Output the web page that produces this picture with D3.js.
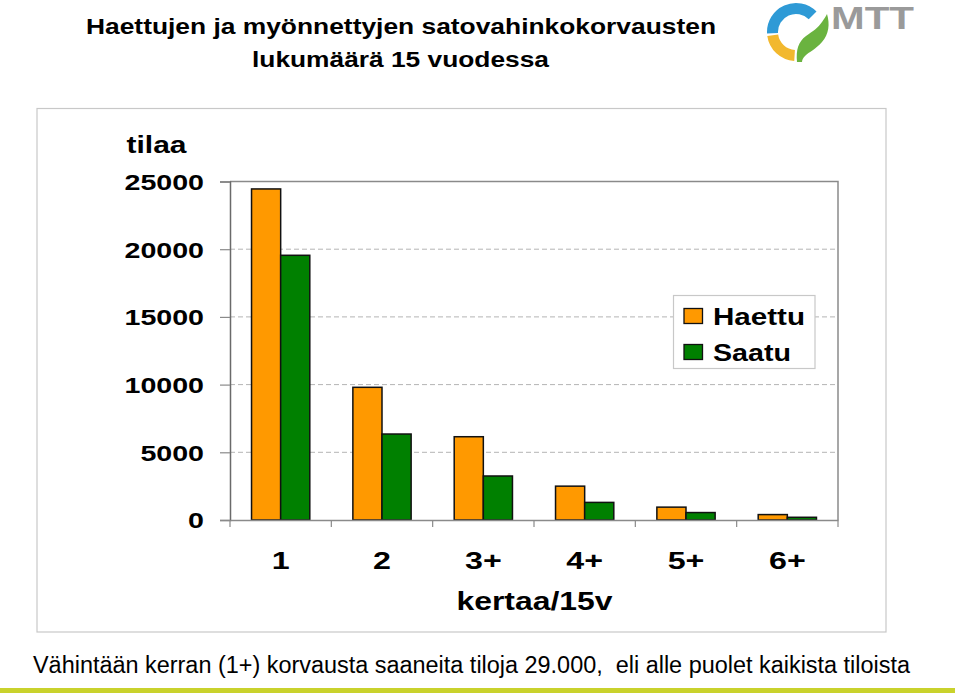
<!DOCTYPE html>
<html><head><meta charset="utf-8">
<script src="https://cdn.jsdelivr.net/npm/d3@7/dist/d3.min.js"></script>
<style>body{margin:0;background:#fff}svg{display:block;font-family:"Liberation Sans",Arial,sans-serif}</style>
</head><body>
<svg id="c" width="960" height="696"></svg>
<script>
const categories = ["1", "2", "3+", "4+", "5+", "6+"];
const haettu = [24450, 9800, 6150, 2500, 950, 400];
const saatu = [19550, 6350, 3250, 1300, 550, 200];
const seriesNames = ["Haettu", "Saatu"];
const seriesColors = ["#FF9900", "#008000"];
const yTicks = [0, 5000, 10000, 15000, 20000, 25000];

const svg = d3.select("#c");
const L = 230, R = 838, T = 181.5, B = 520;

function stretch(sel, f) {
  sel.each(function() {
    const w = this.getComputedTextLength();
    d3.select(this).attr("textLength", w * f).attr("lengthAdjust", "spacingAndGlyphs");
  });
}
function fitTo(sel, w) {
  sel.attr("textLength", w).attr("lengthAdjust", "spacingAndGlyphs");
}

// titles
svg.append("text").attr("x", 401).attr("y", 34).attr("text-anchor", "middle")
  .attr("font-size", 22.5).attr("font-weight", "bold").attr("fill", "#000")
  .text("Haettujen ja myönnettyjen satovahinkokorvausten").call(fitTo, 630);
svg.append("text").attr("x", 400.5).attr("y", 66.5).attr("text-anchor", "middle")
  .attr("font-size", 22.5).attr("font-weight", "bold").attr("fill", "#000")
  .text("lukumäärä 15 vuodessa").call(fitTo, 297);

// logo
const logo = svg.append("g").attr("transform", "translate(796,32)");
const arcG = d3.arc().innerRadius(18).outerRadius(29);
logo.append("path").attr("d", arcG({startAngle: -Math.PI/2 - 0.05, endAngle: Math.PI*0.25})).attr("fill", "#2e9ad6");
logo.append("path").attr("d", arcG({startAngle: -Math.PI/2 - 0.14, endAngle: -Math.PI + 0.06})).attr("fill", "#f2b82e");
svg.append("path")
  .attr("d", "M797,62 C796,50 798,42 806,36 C813,31 818,28 822,22 C824,19 826,16 827,14 C830,24 829,34 822,42 C816,49 809,52 805,56 C803,58 802,60 802,62 Z")
  .attr("fill", "#6ab33f");
svg.append("text").attr("x", 831).attr("y", 29).attr("font-size", 31).attr("font-weight", "bold")
  .attr("fill", "#9a9a9a").text("MTT").call(fitTo, 83);

// outer frame
svg.append("rect").attr("x", 37).attr("y", 108.5).attr("width", 849).attr("height", 523.5)
  .attr("fill", "none").attr("stroke", "#c8c8c8").attr("stroke-width", 1.2);

const x = d3.scaleBand().domain(categories).range([L, R]).paddingInner(0.425).paddingOuter(0.2125);
const xs = d3.scaleBand().domain(seriesNames).range([0, x.bandwidth()]);
const y = d3.scaleLinear().domain([0, 25000]).range([B, T]);

// grid
svg.append("g").selectAll("line").data(yTicks.filter(d => d > 0 && d < 25000)).join("line")
  .attr("x1", L).attr("x2", R).attr("y1", d => y(d)).attr("y2", d => y(d))
  .attr("stroke", "#b4b4b4").attr("stroke-dasharray", "5,3").attr("stroke-width", 1);

// plot frame top/right
svg.append("path").attr("d", `M${L},${T}H${R}V${B}`).attr("fill", "none").attr("stroke", "#8a8a8a").attr("stroke-width", 1.5);

// bars
const data = categories.map((c, i) => ({c, vals: [haettu[i], saatu[i]]}));
svg.append("g").selectAll("g").data(data).join("g")
  .attr("transform", d => `translate(${x(d.c)},0)`)
  .selectAll("rect").data(d => d.vals.map((v, j) => ({v, s: seriesNames[j], j}))).join("rect")
  .attr("x", d => xs(d.s)).attr("width", xs.bandwidth())
  .attr("y", d => y(d.v)).attr("height", d => B - y(d.v))
  .attr("fill", d => seriesColors[d.j]).attr("stroke", "#111").attr("stroke-width", 1.5);

// y axis
const ya = svg.append("g").attr("transform", `translate(${L},0)`)
  .call(d3.axisLeft(y).tickValues(yTicks).tickSize(10).tickPadding(16).tickFormat(d3.format("d")));
ya.select(".domain").attr("stroke", "#6a6a6a").attr("stroke-width", 1.5);
ya.selectAll(".tick line").attr("stroke", "#8a8a8a").attr("stroke-width", 1.2);
ya.selectAll("text").attr("font-size", 22).attr("font-weight", "bold").attr("fill", "#000")
  .attr("font-family", "Liberation Sans, Arial, sans-serif").attr("dy", "0.36em").call(stretch, 1.3);

svg.append("text").attr("x", 156.5).attr("y", 153).attr("text-anchor", "middle")
  .attr("font-size", 24).attr("font-weight", "bold").text("tilaa").call(fitTo, 60);

// x axis
const xa = svg.append("g").attr("transform", `translate(0,${B})`)
  .call(d3.axisBottom(x).tickSize(0).tickPadding(0));
xa.select(".domain").attr("stroke", "#8a8a8a").attr("stroke-width", 1.5);
xa.selectAll(".tick text").attr("font-size", 23).attr("font-weight", "bold").attr("fill", "#000")
  .attr("font-family", "Liberation Sans, Arial, sans-serif").attr("dy", null).attr("y", 49).call(stretch, 1.4);
const bounds = categories.map(c => x(c) - x.step() * x.paddingOuter()).concat([R]);
svg.append("g").selectAll("line").data(bounds).join("line")
  .attr("x1", d => d).attr("x2", d => d).attr("y1", B).attr("y2", B + 7)
  .attr("stroke", "#8a8a8a").attr("stroke-width", 1.2);

svg.append("text").attr("x", 534.5).attr("y", 610).attr("text-anchor", "middle")
  .attr("font-size", 25).attr("font-weight", "bold").text("kertaa/15v").call(fitTo, 156);

// legend
const lg = svg.append("g");
lg.append("rect").attr("x", 673.5).attr("y", 295.5).attr("width", 141.5).attr("height", 73)
  .attr("fill", "#fff").attr("stroke", "#c8c8c8").attr("stroke-width", 1.2);
const lw = [92, 78];
seriesNames.forEach((s, i) => {
  const yy = 308.5 + i * 36;
  lg.append("rect").attr("x", 684).attr("y", yy).attr("width", 18.5).attr("height", 15)
    .attr("fill", seriesColors[i]).attr("stroke", "#111").attr("stroke-width", 1.3);
  lg.append("text").attr("x", 713).attr("y", yy + 16.5).attr("font-size", 24).attr("font-weight", "bold")
    .text(s).call(fitTo, lw[i]);
});

// footer
svg.append("text").attr("x", 33).attr("y", 673).attr("font-size", 23).attr("fill", "#000")
  .text("Vähintään kerran (1+) korvausta saaneita tiloja 29.000,  eli alle puolet kaikista tiloista")
  .attr("xml:space", "preserve").style("white-space", "pre").call(fitTo, 877);
svg.append("rect").attr("x", 0).attr("y", 688).attr("width", 955).attr("height", 5).attr("fill", "#c9d22c");
</script>
</body></html>
